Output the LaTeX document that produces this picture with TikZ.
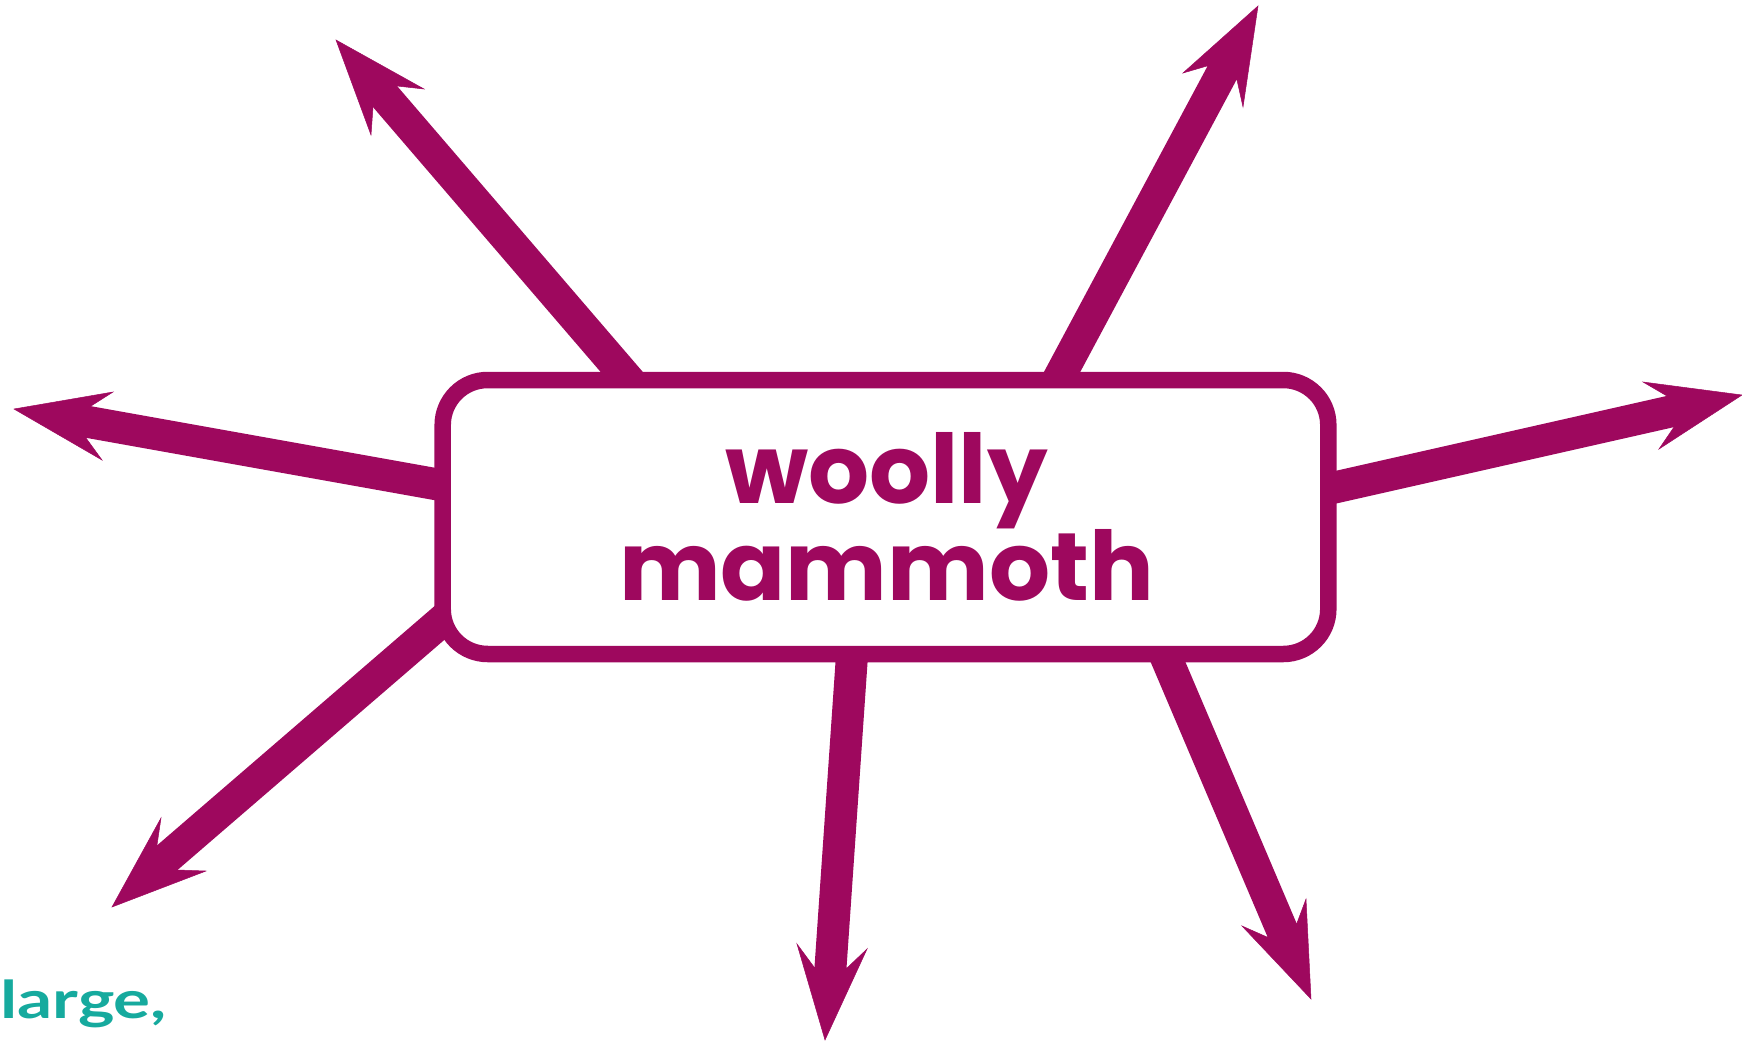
\documentclass[tikz,border=0pt]{standalone}
\usepackage{fontspec}
\newfontfamily\popfont{Poppins}
\newfontfamily\handfont{Lato}
\definecolor{mag}{RGB}{158,8,94}
\definecolor{tealh}{RGB}{22,170,158}
\begin{document}
\begin{tikzpicture}[x=1pt,y=-1pt,
  shaft/.style={draw=mag,line width=32pt,shorten >=-3pt},
  head/.style={fill=mag,draw=mag,line width=0.5pt,line join=miter},
  box/.style={draw=mag,line width=16.5pt,fill=white,rounded corners=45pt,
    minimum width=885.6pt,minimum height=274pt,inner sep=0pt},
  txt/.style={text=mag,font=\popfont\bfseries\fontsize{96}{97}\selectfont,inner sep=0pt},
  hand/.style={text=tealh,font=\handfont\bfseries\fontsize{52}{52}\selectfont,inner sep=0pt,xscale=1.33}]
\useasboundingbox (0,0) rectangle (1742,1041);
% shaft start points (inside the box) and necks
\coordinate (s1) at (657,413);   \coordinate (n1) at (385,96.5);
\coordinate (s2) at (1038,417);  \coordinate (n2) at (1222,73);
\coordinate (s3) at (468.5,490); \coordinate (n3) at (88.5,422);
\coordinate (s4) at (1303.6,494.5); \coordinate (n4) at (1670.5,411.5);
\coordinate (s5) at (480,588);   \coordinate (n5) at (167.5,857.5);
\coordinate (s6) at (854.7,616); \coordinate (n6) at (830.5,967.5);
\coordinate (s7) at (1151,622);  \coordinate (n7) at (1282,930);
% shafts
\foreach \i in {1,...,7} \draw[shaft] (s\i) -- (n\i);
% heads
\fill[head] (336,40) -- (424,89) -- (397,86) -- (373,107) -- (371,135) -- cycle;
\fill[head] (1258,6) -- (1183,73) -- (1207,66) -- (1237,80) -- (1243,107) -- cycle;
\fill[head] (14,409) -- (113,392) -- (91,406) -- (86,438) -- (102,460) -- cycle;
\fill[head] (1742,395) -- (1643,382) -- (1667,396) -- (1674,427) -- (1659,449) -- cycle;
\fill[head] (112,907) -- (161,818) -- (157,845) -- (178,870) -- (206,871) -- cycle;
\fill[head] (825,1040) -- (797,944) -- (814,967) -- (847,968) -- (867,949) -- cycle;
\fill[head] (1311,999) -- (1242,926) -- (1267,937) -- (1297,923) -- (1306,899) -- cycle;
% central box
\node[box] (wm) at (885.5,517) {};
\node[txt,anchor=base] (w1) at (886.5,503) {woolly};
\node[txt,anchor=base] (w2) at (886.6,600) {mammoth};
% handwritten fragment
\node[hand,anchor=base west] (lg) at (0,1018) {large,};
\end{tikzpicture}
\end{document}
